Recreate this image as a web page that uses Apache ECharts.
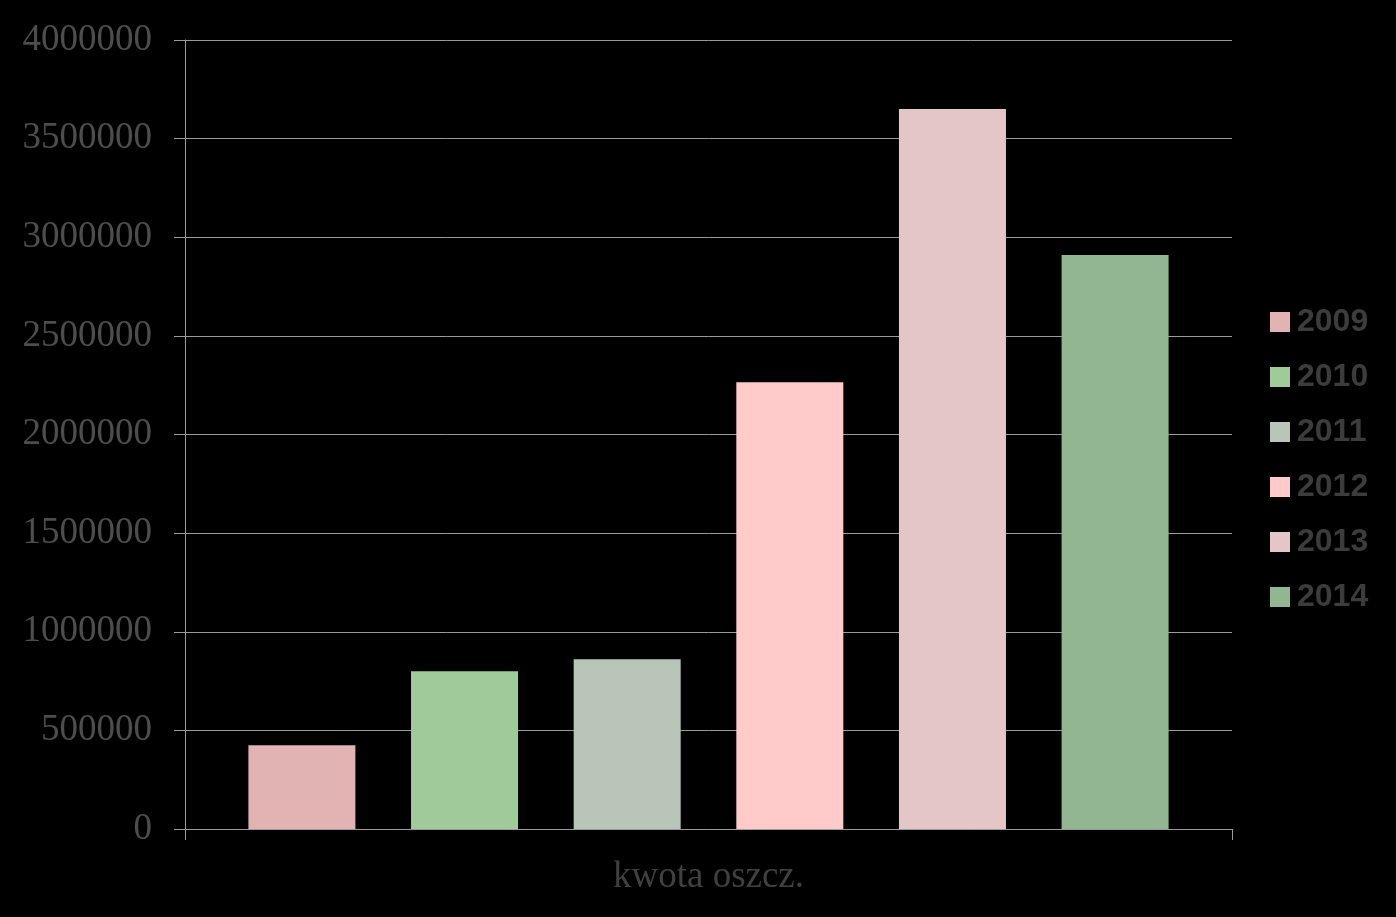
<!DOCTYPE html>
<html>
<head>
<meta charset="utf-8">
<script src="https://cdn.jsdelivr.net/npm/echarts@6/dist/echarts.min.js"></script>
<style>html,body{margin:0;padding:0;background:#000;}#c{width:1396px;height:917px;}</style>
</head>
<body>
<div id="c"></div>
<script>
const categories = ['kwota oszcz.'];
const seriesNames = ['2009', '2010', '2011', '2012', '2013', '2014'];
const seriesValues = [425000, 800000, 860000, 2265000, 3650000, 2910000];
const seriesColors = ['#E2B3B3', '#A0CA9A', '#B9C5B9', '#FFCACA', '#E4C6C9', '#93B692'];

const chart = echarts.init(document.getElementById('c'), null, {renderer: 'canvas'});
const series = seriesNames.map((n, i) => ({
  name: n,
  type: 'bar',
  data: [seriesValues[i]],
  itemStyle: {color: seriesColors[i]},
  barWidth: 107,
  barGap: '52%'
}));
chart.setOption({
  backgroundColor: '#000',
  animation: false,
  grid: {left: 185, right: 164, top: 40, bottom: 88},
  legend: {
    orient: 'vertical',
    left: 1270,
    top: 304,
    padding: 0,
    itemWidth: 20,
    itemHeight: 20,
    itemGap: 19,
    icon: 'rect',
    data: seriesNames,
    textStyle: {
      color: '#3c3c3c',
      fontFamily: '"Liberation Sans Narrow", "Liberation Sans", Arial, sans-serif',
      fontWeight: 'bold',
      fontSize: 32,
      lineHeight: 36,
      padding: [0, 0, 0, 2]
    }
  },
  xAxis: {
    type: 'category',
    data: categories,
    axisLine: {lineStyle: {color: '#9a9a9a', width: 1}},
    axisTick: {show: true, length: 11, lineStyle: {color: '#9a9a9a'}},
    axisLabel: {
      color: '#404040',
      fontFamily: '"Liberation Serif", "Times New Roman", serif',
      fontSize: 37,
      margin: 30
    }
  },
  yAxis: {
    type: 'value',
    min: 0,
    max: 4000000,
    interval: 500000,
    axisLine: {show: true, lineStyle: {color: '#9a9a9a', width: 1}},
    axisTick: {show: true, length: 11, lineStyle: {color: '#9a9a9a'}},
    splitLine: {show: true, lineStyle: {color: '#9a9a9a', width: 1}},
    axisLabel: {
      color: '#4d4d4d',
      fontFamily: '"Liberation Serif", "Times New Roman", serif',
      fontSize: 37,
      margin: 33,
      formatter: v => String(v)
    }
  },
  series: series
});
</script>
</body>
</html>
